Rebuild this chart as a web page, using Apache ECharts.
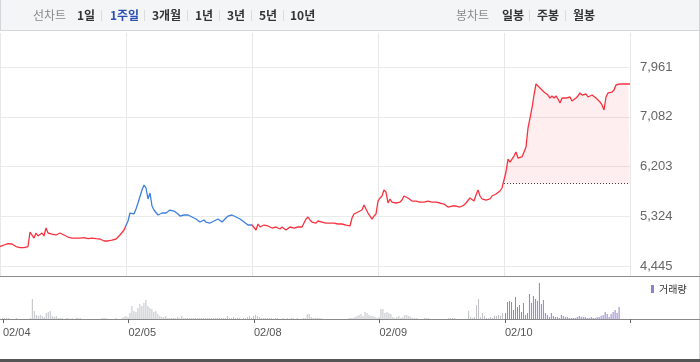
<!DOCTYPE html>
<html><head><meta charset="utf-8">
<script src="https://cdn.jsdelivr.net/npm/echarts@6/dist/echarts.min.js"></script>
<style>html,body{margin:0;padding:0;background:#fff}#c{width:700px;height:362px}</style>
</head><body><div id="c"></div>
<script>
// ---- data ----
const dates = ['02/04', '02/05', '02/08', '02/09', '02/10'];
const yTicks = [4445, 5324, 6203, 7082, 7961];
const prevClose = 5900;
const periodTabs = ['1일', '1주일', '3개월', '1년', '3년', '5년', '10년'];
const candleTabs = ['일봉', '주봉', '월봉'];

const priceDay1 = [4789,4798,4816,4834,4842,4851,4834,4816,4789,4780,4771,4771,4771,4780,4789,5046,5081,4939,5028,4975,5001,5028,4975,5116,5028,4993,5010,4975,4993,5010,5028,4993,4993,4975,4957,4975,4939,4957,4939,4922,4939,4922,4948,4939,4930,4939,4939,4930,4930,4922,4922,4904,4887,4869,4887,4878,4904,4904,4922,4939,4993,5028,5081];
const priceDay2 = [5098,5240,5381,5416,5364,5452,5558,5540,5788,5876,5823,5629,5735,5505,5434,5416,5346,5328,5381,5399,5381,5399,5434,5452,5416,5399,5364,5328,5293,5346,5364,5346,5328,5311,5293,5275,5240,5222,5240,5258,5222,5204,5204,5222,5240,5258,5275,5240,5222,5258,5293,5328,5346,5346,5328,5311,5293,5275,5240,5222,5196,5169,5152];
const priceDay3 = [5169,5187,5081,5187,5134,5169,5169,5152,5152,5134,5116,5134,5134,5116,5098,5134,5116,5081,5098,5134,5152,5116,5116,5134,5134,5134,5134,5275,5311,5258,5222,5187,5204,5240,5258,5222,5204,5204,5204,5204,5187,5204,5204,5187,5187,5187,5169,5169,5152,5152,5293,5364,5381,5399,5399,5434,5522,5505,5381,5328,5275,5328,5364];
const priceDay4 = [5593,5646,5682,5788,5752,5558,5629,5575,5558,5558,5558,5575,5611,5682,5717,5646,5611,5593,5611,5593,5575,5575,5593,5575,5575,5593,5575,5575,5593,5575,5558,5558,5558,5540,5522,5487,5470,5505,5470,5505,5470,5487,5470,5522,5558,5575,5646,5611,5593,5699,5788,5682,5629,5611,5611,5629,5629,5682,5717,5717,5735,5770,5823];
const priceDay5 = [5858,6106,6335,6282,6300,6388,6459,6353,6371,6371,6406,6547,6883,6883,7237,7466,7661,7625,7643,7555,7519,7484,7466,7413,7449,7413,7449,7396,7325,7413,7431,7413,7413,7431,7360,7343,7413,7449,7502,7466,7466,7484,7431,7396,7466,7449,7413,7396,7343,7290,7201,7431,7502,7502,7519,7555,7643,7661,7661,7661,7661,7661,7661,7661];

// volume (thousand shares)
const volDay1 = [1,1,1,1,0,0,0,1,0,0,0,0,0,0,1,20,8,4,3,4,3,2,6,7,8,3,2,3,1,1,1,0,1,1,0,1,0,1,1,1,0,0,0,0,0,0,0,0,0,0,1,1,1,0,0,0,0,1,0,0,1,2,3];
const volDay2 = [2,6,13,8,7,11,15,13,16,19,13,11,10,7,8,5,3,2,2,3,1,1,1,1,1,2,1,3,1,1,1,1,1,1,1,1,1,1,1,1,1,1,1,1,1,1,1,1,1,1,3,1,1,2,1,1,1,0,1,1,2,3,1];
const volDay3 = [3,4,3,2,1,1,1,1,1,1,0,1,1,0,0,1,0,1,0,1,1,0,1,0,0,1,1,5,5,2,1,1,1,1,1,0,0,0,0,0,0,0,0,0,0,0,0,0,1,1,1,2,3,4,5,3,7,6,4,3,3,2,1];
const volDay4 = [2,10,10,6,7,6,5,2,1,2,3,1,2,4,4,3,2,1,1,1,0,0,0,1,1,1,0,0,0,0,0,0,0,0,0,1,1,1,1,0,0,0,0,0,0,8,2,1,2,14,20,2,6,3,1,1,2,1,3,3,4,3,6];
const volDay5 = [6,17,18,17,9,22,12,14,7,16,4,6,25,16,23,20,18,36,15,19,6,4,2,6,3,2,2,1,4,3,2,2,1,1,1,1,2,3,2,2,2,1,1,2,1,1,2,2,3,4,7,5,2,5,7,9,6,12];

// ---- build ----
const PER_DAY = priceDay1.length;           // slots per trading day
const TOTAL = PER_DAY * dates.length;
const RED = '#f7323e', BLUE = '#3d7fe0', GRAY_BAR = '#bfc1c5', PURPLE = '#9280cf';

const priceAll = [].concat(priceDay1, priceDay2, priceDay3, priceDay4, priceDay5).map((v, i) => [i, v]);
const todayStart = PER_DAY * 4;
const areaData = priceDay5.map((v, i) => [todayStart + i, v]);
const volPast = [].concat(volDay1, volDay2, volDay3, volDay4).map((v, i) => [i, v]);
const volToday = volDay5.map((v, i) => [todayStart + i, v]);

const KR = '"Noto Sans CJK KR", sans-serif';
const NUM = '"Liberation Sans Narrow", "Liberation Sans", Arial, sans-serif';

const graphics = [
  { type: 'rect', shape: { x: 0, y: 0, width: 700, height: 30 }, style: { fill: '#f4f5f7' }, silent: true },
  { type: 'line', shape: { x1: 0, y1: 30.5, x2: 700, y2: 30.5 }, style: { stroke: '#d5d6da', lineWidth: 1 }, silent: true },
  { type: 'line', shape: { x1: 0.5, y1: 0, x2: 0.5, y2: 30 }, style: { stroke: '#d5d6da', lineWidth: 1 }, silent: true },
  { type: 'line', shape: { x1: 699.5, y1: 0, x2: 699.5, y2: 362 }, style: { stroke: '#d3d3d3', lineWidth: 1 }, silent: true },
  { type: 'line', shape: { x1: 0, y1: 276.5, x2: 700, y2: 276.5 }, style: { stroke: '#8c8c8c', lineWidth: 1 }, silent: true },
  { type: 'line', shape: { x1: 0, y1: 319.5, x2: 700, y2: 319.5 }, style: { stroke: '#8a8a8a', lineWidth: 1 }, silent: true },
  { type: 'rect', shape: { x: 0, y: 359, width: 700, height: 3 }, style: { fill: '#555' }, silent: true }
];
function tabText(txt, x, color, bold) {
  graphics.push({ type: 'text', x: x, y: 15, silent: true,
    style: { text: txt, fill: color, font: (bold ? 'bold ' : '') + '12px ' + KR, align: 'left', verticalAlign: 'middle' } });
}
function sep(x) {
  graphics.push({ type: 'line', shape: { x1: x + 0.5, y1: 10, x2: x + 0.5, y2: 21 }, style: { stroke: '#dcdcdc', lineWidth: 1 }, silent: true });
}
tabText('선차트', 33, '#8a8a8a', false);
const tabX = [77, 110, 152, 195, 227, 259, 290];
const tabSep = [101, 144, 187, 219, 251, 283];
periodTabs.forEach((t, i) => tabText(t, tabX[i], t === '1주일' ? '#2b4fb5' : '#333', true));
tabSep.forEach(sep);
tabText('봉차트', 456, '#8a8a8a', false);
const candleX = [502, 537, 573];
candleTabs.forEach((t, i) => tabText(t, candleX[i], '#333', true));
[529, 565].forEach(sep);

const chart = echarts.init(document.getElementById('c'), null, { renderer: 'canvas' });
chart.setOption({
  animation: false,
  backgroundColor: '#fff',
  textStyle: { fontFamily: NUM },
  graphic: graphics,
  legend: {
    data: ['거래량'], left: 651, top: 284, padding: 0, icon: 'rect',
    itemWidth: 3, itemHeight: 8, selectedMode: false,
    textStyle: { fontSize: 10, color: '#333', fontFamily: KR }
  },
  grid: [
    { left: 0, top: 67, width: 630, height: 199 },
    { left: 0, top: 33, width: 630, height: 243 },
    { left: 0.5, top: 279, width: 630, height: 40 }
  ],
  xAxis: [
    { gridIndex: 0, type: 'value', min: 0, max: TOTAL, interval: PER_DAY, show: false },
    { gridIndex: 1, type: 'value', min: 0, max: TOTAL, interval: PER_DAY,
      axisLine: { show: false }, axisTick: { show: false }, axisLabel: { show: false },
      splitLine: { show: true, lineStyle: { color: '#e8e8e8', width: 1 } } },
    { gridIndex: 2, type: 'value', min: 0, max: TOTAL, interval: PER_DAY,
      axisLine: { show: false },
      axisTick: { show: true, length: 4, lineStyle: { color: '#666' } },
      splitLine: { show: false },
      axisLabel: { align: 'left', margin: 8, color: '#555', fontSize: 11,
        fontFamily: '"Liberation Sans", Arial, sans-serif',
        formatter: v => dates[Math.round(v / PER_DAY)] !== undefined && v < TOTAL ? dates[Math.round(v / PER_DAY)] : '' } }
  ],
  yAxis: [
    { gridIndex: 0, type: 'value', position: 'right', min: yTicks[0], max: yTicks[yTicks.length - 1],
      interval: yTicks[1] - yTicks[0],
      axisLine: { show: false }, axisTick: { show: false },
      axisLabel: { margin: 10, color: '#666', fontSize: 13, fontFamily: NUM,
        formatter: v => Math.round(v).toLocaleString('en-US') },
      splitLine: { show: true, lineStyle: { color: '#eaeaea', width: 1 } } },
    { gridIndex: 1, type: 'value', min: 0, max: 1, show: false },
    { gridIndex: 2, type: 'value', min: 0, max: 40, show: false }
  ],
  visualMap: {
    type: 'piecewise', show: false, seriesIndex: 0, dimension: 0,
    pieces: [
      { lt: PER_DAY, color: RED },
      { gte: PER_DAY, lt: PER_DAY * 2, color: BLUE },
      { gte: PER_DAY * 2, color: RED }
    ]
  },
  series: [
    { name: 'price', type: 'line', xAxisIndex: 0, yAxisIndex: 0, data: priceAll,
      showSymbol: false, symbol: 'none', lineStyle: { width: 1.3 }, z: 4, silent: true },
    { name: 'today', type: 'line', xAxisIndex: 0, yAxisIndex: 0, data: areaData,
      showSymbol: false, symbol: 'none', lineStyle: { width: 0, color: RED },
      areaStyle: { origin: prevClose, color: 'rgba(250,70,85,0.13)' }, z: 2, silent: true,
      markLine: { silent: true, symbol: 'none', label: { show: false },
        lineStyle: { type: [1, 2], color: '#444', width: 1 },
        data: [[{ coord: [todayStart, prevClose] }, { coord: [TOTAL, prevClose] }]] } },
    { name: 'pastVol', type: 'bar', xAxisIndex: 2, yAxisIndex: 2, data: volPast,
      barWidth: 1, itemStyle: { color: GRAY_BAR }, silent: true },
    { name: '거래량', type: 'bar', xAxisIndex: 2, yAxisIndex: 2, data: volToday,
      barWidth: 1, itemStyle: { color: PURPLE }, silent: true }
  ]
});
</script></body></html>
